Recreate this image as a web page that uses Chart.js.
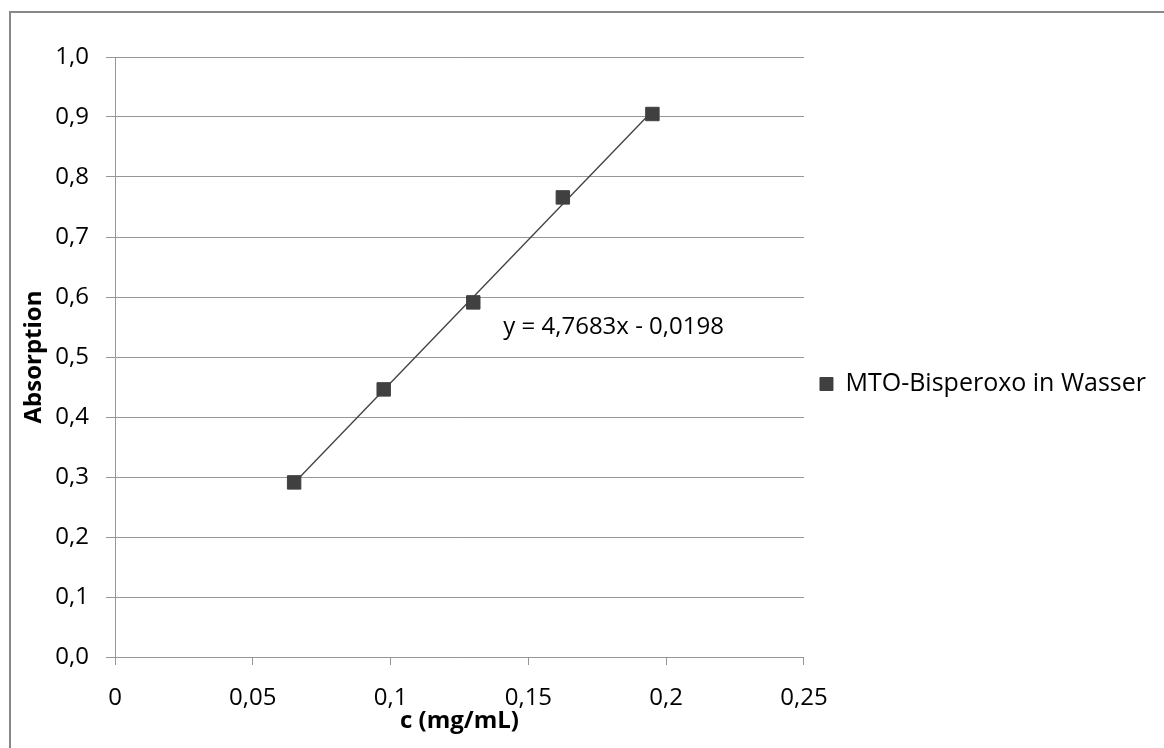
<!DOCTYPE html>
<html>
<head>
<meta charset="utf-8">
<script src="https://cdn.jsdelivr.net/npm/chart.js@4"></script>
<style>
    html, body { margin: 0; padding: 0; background: #fff; overflow: hidden; }
    #wrap { position: relative; width: 1164px; height: 748px; }
</style>
</head>
<body>
<div id="wrap"><canvas id="myChart"></canvas></div>
<script>
const concentration = [0.065, 0.0975, 0.13, 0.1625, 0.195];
const absorption = [0.291, 0.446, 0.591, 0.766, 0.905];

// Trendline end points (Excel linear fit)
const trendX = [0.065, 0.195];
const trendY = [0.290, 0.910];

const xTicks = [0, 0.05, 0.1, 0.15, 0.2, 0.25];
const yTicks = [0, 0.1, 0.2, 0.3, 0.4, 0.5, 0.6, 0.7, 0.8, 0.9, 1.0];

const seriesName = 'MTO-Bisperoxo in Wasser';
const equationText = 'y = 4,7683x - 0,0198';
const equationAt = [0.1409, 0.549];

const fontFamily = '"Open Sans", sans-serif';
const fontSize = 24;
const gridColor = 'rgb(150, 150, 150)';
const markColor = '#404040';

const data = {
    datasets: [{
        label: seriesName,
        data: concentration.map((x, i) => ({x: x, y: absorption[i]})),
        showLine: false,
        pointStyle: 'rect',
        pointRadius: 9.5,
        pointHoverRadius: 9.5,
        backgroundColor: markColor,
        borderColor: markColor,
        borderWidth: 1,
        order: 1
    }, {
        label: 'trend',
        data: trendX.map((x, i) => ({x: x, y: trendY[i]})),
        showLine: true,
        pointRadius: 0,
        borderColor: markColor,
        borderWidth: 1.3,
        order: 2
    }]
};

// draws the outer frame and the trendline equation
const extras = {
    id: 'extras',
    beforeDraw(chart) {
        const ctx = chart.ctx;
        ctx.save();
        ctx.fillStyle = '#fff';
        ctx.fillRect(0, 0, chart.width, chart.height);
        ctx.strokeStyle = '#888';
        ctx.lineWidth = 2;
        ctx.beginPath();
        ctx.moveTo(10, chart.height + 5);
        ctx.lineTo(10, 12);
        ctx.lineTo(chart.width + 5, 12);
        ctx.stroke();
        ctx.restore();
    },
    afterDatasetsDraw(chart) {
        const ctx = chart.ctx;
        const x = chart.scales.x.getPixelForValue(equationAt[0]);
        const y = chart.scales.y.getPixelForValue(equationAt[1]);
        ctx.save();
        ctx.font = fontSize + 'px ' + fontFamily;
        ctx.fillStyle = '#000';
        ctx.textAlign = 'left';
        ctx.textBaseline = 'middle';
        ctx.fillText(equationText, x, y);
        ctx.restore();
    }
};

const config = {
    type: 'scatter',
    data: data,
    plugins: [extras],
    options: {
        responsive: true,
        maintainAspectRatio: false,
        animation: false,
        layout: {
            padding: {top: 57, right: 8, bottom: 37, left: 0}
        },
        plugins: {
            legend: {
                position: 'right',
                maxWidth: 420,
                labels: {
                    color: '#000',
                    font: {family: fontFamily, size: 25},
                    usePointStyle: true,
                    pointStyle: 'rect',
                    boxWidth: 13,
                    boxHeight: 13,
                    padding: 16,
                    filter: item => item.datasetIndex === 0
                }
            },
            tooltip: {enabled: false}
        },
        scales: {
            x: {
                type: 'linear',
                min: 0,
                max: 0.25,
                afterFit: s => { s.height = 54; },
                afterBuildTicks: s => { s.ticks = xTicks.map(v => ({value: v})); },
                ticks: {
                    color: '#000',
                    font: {family: fontFamily, size: fontSize},
                    padding: 19,
                    maxRotation: 0,
                    callback: v => String(v).replace('.', ',')
                },
                grid: {
                    drawOnChartArea: false,
                    drawTicks: true,
                    tickLength: 8,
                    color: gridColor
                },
                border: {color: gridColor, width: 1},
                title: {
                    display: true,
                    text: 'c (mg/mL)',
                    color: '#000',
                    font: {family: fontFamily, size: fontSize, weight: 'bold'},
                    padding: {top: 0, bottom: -25}
                }
            },
            y: {
                min: 0,
                max: 1,
                afterFit: s => { s.width = 115; },
                afterBuildTicks: s => { s.ticks = yTicks.map(v => ({value: v})); },
                ticks: {
                    color: '#000',
                    font: {family: fontFamily, size: fontSize},
                    padding: 17,
                    callback: v => v.toFixed(1).replace('.', ',')
                },
                grid: {
                    color: gridColor,
                    tickLength: 9
                },
                border: {color: gridColor, width: 1},
                title: {
                    display: true,
                    text: 'Absorption',
                    color: '#000',
                    font: {family: fontFamily, size: fontSize, weight: 'bold'},
                    padding: {top: 20, bottom: 0}
                }
            }
        }
    }
};

const myChart = new Chart(
    document.getElementById('myChart'),
    config
);
</script>
</body>
</html>
